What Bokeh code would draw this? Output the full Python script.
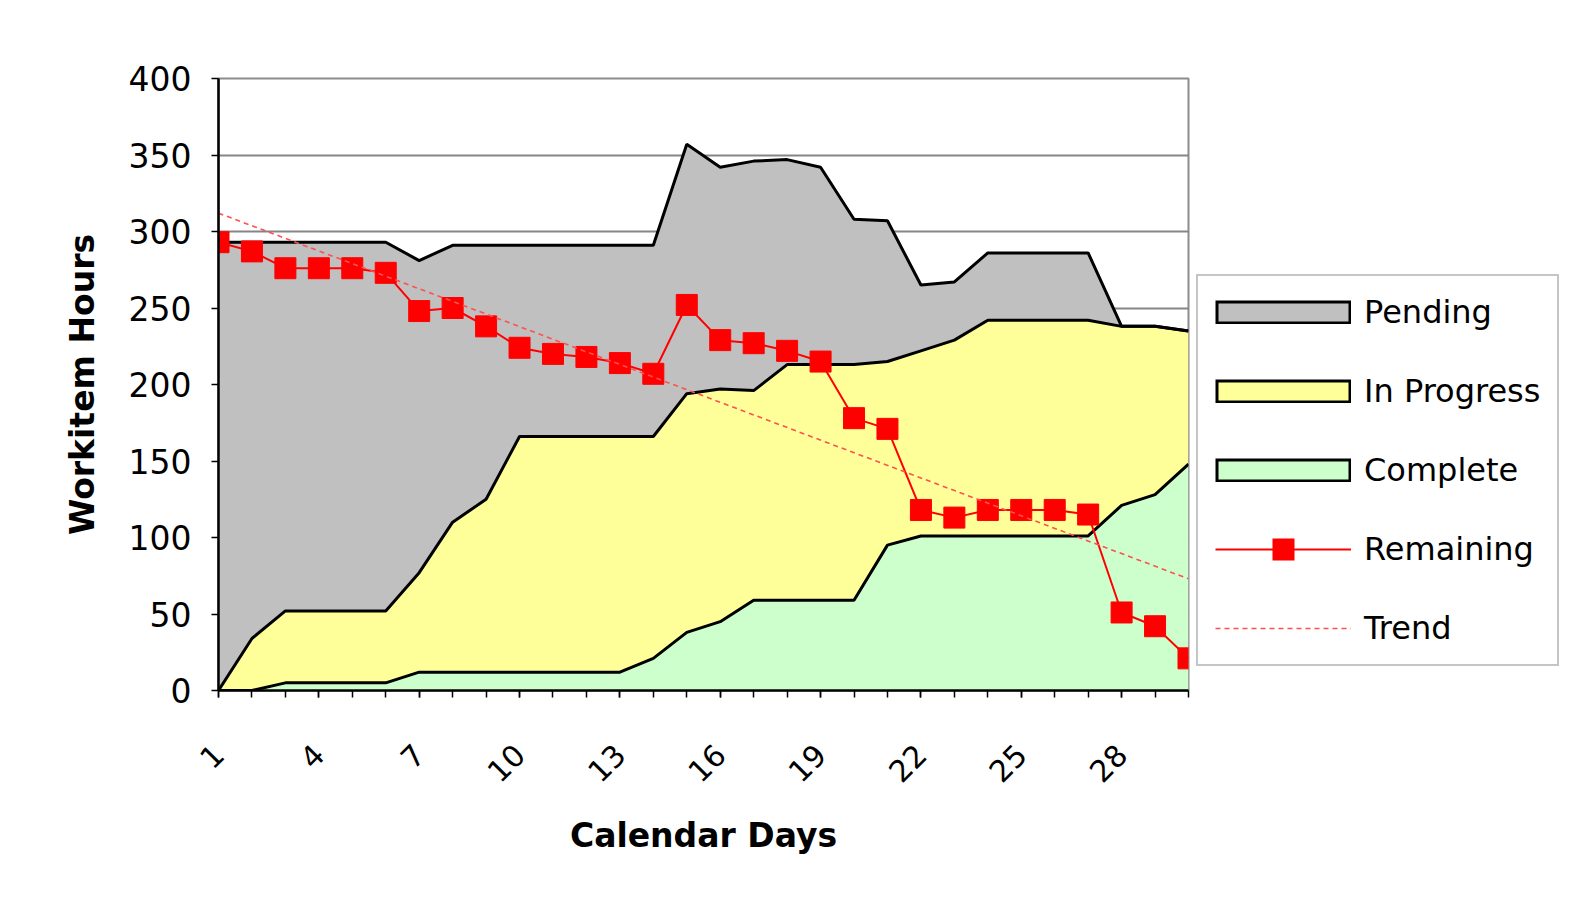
from math import pi
from bokeh.plotting import figure
from bokeh.models import (ColumnDataSource, Range1d, FixedTicker, Legend, LegendItem,
                          InlineStyleSheet)
from bokeh.embed import file_html
from bokeh.resources import INLINE

# ---- data ----
days = list(range(1, 31))
complete = [0, 0, 5, 5, 5, 5, 12, 12, 12, 12, 12, 12, 12, 21, 38,
            45, 59, 59, 59, 59, 95, 101, 101, 101, 101, 101, 101, 121, 128, 148]
in_progress = [0, 34, 47, 47, 47, 47, 65, 98, 113, 154, 154, 154, 154, 145, 156,
               152, 137, 154, 154, 154, 120, 121, 128, 141, 141, 141, 141, 117, 110, 87]
pending = [293, 259, 241, 241, 241, 241, 204, 181, 166, 125, 125, 125, 125, 125, 163,
           145, 150, 134, 129, 95, 92, 43, 38, 44, 44, 44, 44, 0, 0, 0]
remaining = [293, 287, 276, 276, 276, 273, 248, 250, 238, 224, 220, 218, 214, 207, 252,
             229, 227, 222, 215, 178, 171, 118, 113, 118, 118, 118, 115, 51, 42, 21]
trend_days = [1, 30]
trend_values = [312, 73]
x_tick_labels = [1, 4, 7, 10, 13, 16, 19, 22, 25, 28]
y_ticks = [0, 50, 100, 150, 200, 250, 300, 350, 400]

GRAY, YELLOW, GREEN, RED = "#C0C0C0", "#FFFF99", "#CCFFCC", "#FF0000"
FONT = "DejaVu Sans"
GW = 136  # legend glyph width

src = ColumnDataSource(dict(day=days, complete=complete, in_progress=in_progress,
                            pending=pending, remaining=remaining))

p = figure(frame_width=970, frame_height=612,
           x_range=Range1d(1, 30), y_range=Range1d(0, 400),
           output_backend="svg", toolbar_location=None,
           min_border_left=218, min_border_top=78, min_border_bottom=218,
           min_border_right=380)
p.background_fill_color = "white"
p.border_fill_color = "white"
p.outline_line_color = "#8c8c8c"
p.outline_line_width = 2
# outer chart-area border (page decoration)
p.stylesheets = [InlineStyleSheet(css=":host { outline: 2px solid #a6a6a6; outline-offset: -6px; }")]

stack_cols = ["complete", "in_progress", "pending"]
p.varea_stack(stack_cols, x="day", color=[GREEN, YELLOW, GRAY], source=src)
p.vline_stack(stack_cols, x="day", color="black", line_width=3, source=src)

p.line("day", "remaining", source=src, line_color=RED, line_width=2)
p.scatter("day", "remaining", source=src, marker="square", size=21,
          fill_color=RED, line_color=RED)
trend = p.line(trend_days, trend_values, line_color="#FF5050", line_width=1.6,
               line_dash="5 4")

# legend-only renderers (hidden in the plot)
def hidden_line(color, width, dash="solid"):
    return p.line("day", "remaining", source=src, line_color=color, line_width=width,
                  line_dash=dash, visible=False)

box_edge = hidden_line("black", 24)
inner_dash = "0 3 %d 1000" % (GW - 6)
leg_pending = hidden_line(GRAY, 18, inner_dash)
leg_prog = hidden_line(YELLOW, 18, inner_dash)
leg_comp = hidden_line(GREEN, 18, inner_dash)
leg_rem = hidden_line(RED, 2)
leg_square = hidden_line(RED, 22, "0 %d 22 1000" % (GW // 2 - 11))

legend = Legend(items=[
    LegendItem(label="Pending", renderers=[box_edge, leg_pending]),
    LegendItem(label="In Progress", renderers=[box_edge, leg_prog]),
    LegendItem(label="Complete", renderers=[box_edge, leg_comp]),
    LegendItem(label="Remaining", renderers=[leg_rem, leg_square]),
    LegendItem(label="Trend", renderers=[trend]),
])
legend.location = (8, 24)
legend.margin = 0
legend.padding = 17
legend.spacing = 41
legend.glyph_width = GW
legend.glyph_height = 24
legend.label_standoff = 13
legend.label_text_font = FONT
legend.label_text_font_size = "32px"
legend.label_text_color = "black"
legend.border_line_color = "#8c8c8c"
legend.border_line_width = 2
legend.background_fill_color = "white"
p.add_layout(legend, "right")

# grid
p.xgrid.visible = False
p.ygrid.ticker = FixedTicker(ticks=y_ticks)
p.ygrid.grid_line_color = "#858585"
p.ygrid.grid_line_width = 2

# axes
xa = p.xaxis[0]
xa.ticker = FixedTicker(ticks=x_tick_labels, minor_ticks=days)
xa.major_label_orientation = pi / 4
xa.axis_label = "Calendar Days"
ya = p.yaxis[0]
ya.ticker = FixedTicker(ticks=y_ticks)
ya.axis_label = "Workitem Hours"
for ax in (xa, ya):
    ax.axis_line_color = "black"
    ax.axis_line_width = 2.5
    ax.major_tick_line_color = "black"
    ax.minor_tick_line_color = "black"
    ax.major_tick_line_width = 1.5
    ax.minor_tick_line_width = 1.5
    ax.major_tick_in = 0
    ax.minor_tick_in = 0
    ax.major_tick_out = 7
    ax.minor_tick_out = 7
    ax.major_label_text_font = FONT
    ax.major_label_text_color = "black"
    ax.axis_label_text_font = FONT
    ax.axis_label_text_font_style = "bold"
    ax.axis_label_text_font_size = "33px"
    ax.axis_label_text_color = "black"
ya.minor_tick_out = 0
ya.major_label_text_font_size = "33px"
ya.major_label_standoff = 20
ya.axis_label_standoff = 24
xa.major_label_text_font_size = "30px"
xa.major_label_standoff = 52
xa.axis_label_standoff = 21

open("out.html", "w").write(file_html(p, INLINE))
